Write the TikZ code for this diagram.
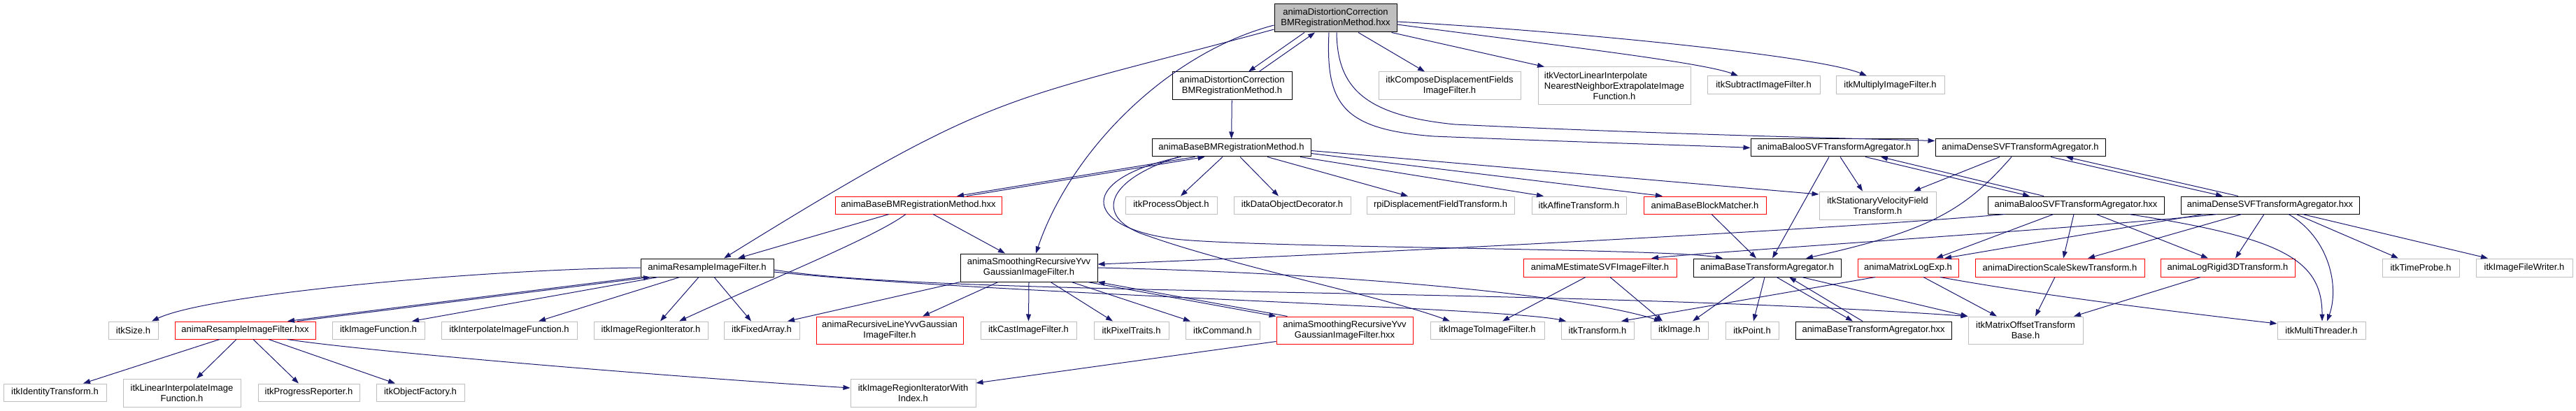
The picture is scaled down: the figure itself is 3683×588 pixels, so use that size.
\documentclass[tikz,border=0pt]{standalone}
\usepackage{fontspec}
\setmainfont{Liberation Sans}
\usetikzlibrary{arrows.meta}
\definecolor{edgeblue}{HTML}{191970}
\definecolor{extgray}{HTML}{BFBFBF}
\definecolor{truncred}{HTML}{FF0000}
\definecolor{curfill}{HTML}{BFBFBF}

\begin{document}
\begin{tikzpicture}[
  x=1pt, y=-1pt,
  file/.style    = {draw, fill=white, line width=1pt, inner sep=0pt, align=center,
                    font=\fontsize{13}{15}\selectfont},
  extfile/.style = {file, draw=extgray},
  redfile/.style = {file, draw=truncred},
  curfile/.style = {file, fill=curfill},
  wh/.style 2 args = {minimum width=#1pt, minimum height=#2pt},
  inc/.style     = {-{Triangle[length=10pt,width=7pt]}, line width=1pt, edgeblue}
]
\useasboundingbox (0,0) rectangle (3683,588);

%% ---- row 0 and 1 ----
\node[curfile, wh={175}{40}] (topHxx) at (1909.5,26) {animaDistortionCorrection\\BMRegistrationMethod.hxx};
\node[file, wh={171}{40}]    (distH)    at (1761.5,123) {animaDistortionCorrection\\BMRegistrationMethod.h};
\node[extfile, wh={203}{40}] (composeF) at (2072.5,123) {itkComposeDisplacementFields\\ImageFilter.h};
\node[extfile, wh={218}{54}] (vecInterp) at (2308,123)
  {\rlap{itkVectorLinearInterpolate}\phantom{NearestNeighborExtrapolateImage}\\NearestNeighborExtrapolateImage\\Function.h};
\node[extfile, wh={161}{26}] (subtractF) at (2521.5,122) {itkSubtractImageFilter.h};
\node[extfile, wh={155}{26}] (multiplyF) at (2702.5,122) {itkMultiplyImageFilter.h};

%% ---- row 2 ----
\node[file, wh={227}{25}] (baseBMH) at (1760.5,211.5) {animaBaseBMRegistrationMethod.h};
\node[file, wh={239}{25}] (balooH)  at (2622.5,211.5) {animaBalooSVFTransformAgregator.h};
\node[file, wh={243}{25}] (denseH)  at (2888.5,211.5) {animaDenseSVFTransformAgregator.h};

%% ---- row 3 ----
\node[redfile, wh={238}{25}] (baseBMHxx)  at (1313,293.5)   {animaBaseBMRegistrationMethod.hxx};
\node[extfile, wh={131}{25}] (procObj)    at (1674.5,293.5) {itkProcessObject.h};
\node[extfile, wh={167}{25}] (dataDeco)   at (1847.5,293.5) {itkDataObjectDecorator.h};
\node[extfile, wh={211}{25}] (rpiField)   at (2059.5,293.5) {rpiDisplacementFieldTransform.h};
\node[extfile, wh={135}{25}] (affineT)    at (2257.5,293.5) {itkAffineTransform.h};
\node[redfile, wh={175}{25}] (blockMatch) at (2437.5,293.5) {animaBaseBlockMatcher.h};
\node[extfile, wh={167}{40}] (svfT)       at (2684.5,294)   {itkStationaryVelocityField\\Transform.h};
\node[file, wh={252}{25}]    (balooHxx)   at (2968,293.5)   {animaBalooSVFTransformAgregator.hxx};
\node[file, wh={255}{25}]    (denseHxx)   at (3245.5,293.5) {animaDenseSVFTransformAgregator.hxx};

%% ---- row 4 ----
\node[file, wh={190}{26}]    (resampleH)  at (1011,383)   {animaResampleImageFilter.h};
\node[file, wh={196}{40}]    (smoothH)    at (1471,383)   {animaSmoothingRecursiveYvv\\GaussianImageFilter.h};
\node[redfile, wh={219}{26}] (mEstim)     at (2287.5,383) {animaMEstimateSVFImageFilter.h};
\node[file, wh={211}{26}]    (baseAggH)   at (2526.5,383) {animaBaseTransformAgregator.h};
\node[redfile, wh={144}{26}] (logExp)     at (2728,383)   {animaMatrixLogExp.h};
\node[redfile, wh={242}{26}] (dssT)       at (2945,383)   {animaDirectionScaleSkewTransform.h};
\node[redfile, wh={192}{26}] (logRigid)   at (3185,383)   {animaLogRigid3DTransform.h};
\node[extfile, wh={110}{26}] (timeProbe)  at (3461,383)   {itkTimeProbe.h};
\node[extfile, wh={138}{26}] (fileWriter) at (3609,383)   {itkImageFileWriter.h};

%% ---- row 5 ----
\node[extfile, wh={71}{25}]  (sizeH)       at (190.5,472.5)  {itkSize.h};
\node[redfile, wh={201}{25}] (resampleHxx) at (350.5,472.5)  {animaResampleImageFilter.hxx};
\node[extfile, wh={132}{25}] (imgFunc)     at (541,472.5)    {itkImageFunction.h};
\node[extfile, wh={194}{25}] (interpFunc)  at (728,472.5)    {itkInterpolateImageFunction.h};
\node[extfile, wh={163}{25}] (regionIt)    at (930.5,472.5)  {itkImageRegionIterator.h};
\node[extfile, wh={108}{25}] (fixedArr)    at (1089,472.5)   {itkFixedArray.h};
\node[redfile, wh={210}{39}] (recLine)     at (1272,472.5)   {animaRecursiveLineYvvGaussian\\ImageFilter.h};
\node[extfile, wh={137}{25}] (castF)       at (1470.5,472.5) {itkCastImageFilter.h};
\node[extfile, wh={107}{25}] (pixTraits)   at (1617.5,472.5) {itkPixelTraits.h};
\node[extfile, wh={106}{25}] (commandH)    at (1748,472.5)   {itkCommand.h};
\node[redfile, wh={195}{39}] (smoothHxx)   at (1922.5,472.5) {animaSmoothingRecursiveYvv\\GaussianImageFilter.hxx};
\node[extfile, wh={163}{25}] (img2img)     at (2126.5,472.5) {itkImageToImageFilter.h};
\node[extfile, wh={104}{25}] (transformH)  at (2284,472.5)   {itkTransform.h};
\node[extfile, wh={82}{25}]  (imageH)      at (2401,472.5)   {itkImage.h};
\node[extfile, wh={76}{25}]  (pointH)      at (2505,472.5)   {itkPoint.h};
\node[file, wh={223}{25}]    (baseAggHxx)  at (2678.5,472.5) {animaBaseTransformAgregator.hxx};
\node[extfile, wh={164}{39}] (matOffset)   at (2896,472.5)   {itkMatrixOffsetTransform\\Base.h};
\node[extfile, wh={126}{25}] (multiThr)    at (3319,472.5)   {itkMultiThreader.h};

%% ---- row 6 ----
\node[extfile, wh={147}{25}] (identT)      at (78.5,561.5)  {itkIdentityTransform.h};
\node[extfile, wh={168}{40}] (linInterp)   at (260,562)     {itkLinearInterpolateImage\\Function.h};
\node[extfile, wh={145}{25}] (progRep)     at (441.5,561.5) {itkProgressReporter.h};
\node[extfile, wh={126}{25}] (objFact)     at (601,561.5)   {itkObjectFactory.h};
\node[extfile, wh={179}{40}] (regionItIdx) at (1305.5,562)  {itkImageRegionIteratorWith\\Index.h};

%% ---- includes of the top file ----
\draw[inc] ([xshift=-44.5]topHxx.south) -- ([xshift=23.5]distH.north);
\draw[inc] ([xshift=38.5]distH.north) -- ([xshift=-29.5]topHxx.south);
\draw[inc] ([xshift=32.5]topHxx.south) -- ([xshift=-35.5]composeF.north);
\draw[inc] ([xshift=80]topHxx.south) -- ([xshift=-100]vecInterp.north);
\draw[inc] ([yshift=-9]topHxx.east) .. controls (2200,62) and (2430,88) .. ([xshift=-36.5]subtractF.north);
\draw[inc] ([yshift=-5]topHxx.east) .. controls (2250,45) and (2600,80) .. ([xshift=-33.5]multiplyF.north);
\draw[inc] ([yshift=-16]topHxx.west) .. controls (1427,149) and (1430,125) .. ([xshift=24]resampleH.north);
\draw[inc] ([yshift=-10]topHxx.west) .. controls (1672,75) and (1532,213) .. ([xshift=10]smoothH.north);
\draw[inc] ([xshift=-9.5]topHxx.south) .. controls (1895,150) and (1920,185) .. (2050,195)
  .. controls (2300,205) and (2450,209) .. (balooH.west);
\draw[inc] ([xshift=1.5]topHxx.south) .. controls (1912,125) and (1950,165) .. (2080,178)
  .. controls (2400,193) and (2650,198) .. ([yshift=10]denseH.west);

%% ---- registration method ----
\draw[inc] (distH) -- (baseBMH);
\draw[inc] ([xshift=-52]baseBMH.south) -- ([xshift=55]baseBMHxx.north);
\draw[inc] ([xshift=69]baseBMHxx.north) -- ([xshift=-38]baseBMH.south);
\draw[inc] ([xshift=-12.5]baseBMH.south) -- ([xshift=13.5]procObj.north);
\draw[inc] ([xshift=12.5]baseBMH.south) -- ([xshift=-19.5]dataDeco.north);
\draw[inc] ([xshift=51.5]baseBMH.south) -- ([xshift=-46.5]rpiField.north);
\draw[inc] ([xshift=98.5]baseBMH.south) -- ([xshift=-50.5]affineT.north);
\draw[inc] ([yshift=-8]baseBMH.east) -- ([xshift=-60.5]blockMatch.north);
\draw[inc] ([yshift=-4]baseBMH.east) -- ([yshift=16]svfT.west);
\draw[inc] ([xshift=-72]baseBMH.south) .. controls (1540,255) and (1545,325) .. (1680,342)
  .. controls (1800,355) and (2380,355) .. ([xshift=-63.5]baseAggH.north);
\draw[inc] ([xshift=-76]baseBMH.south) .. controls (1570,262) and (1570,315) .. (1640,337)
  .. controls (1760,380) and (1980,425) .. ([xshift=-53.5]img2img.north);

\draw[inc] ([xshift=-42]baseBMHxx.south) -- ([xshift=44]resampleH.north);
\draw[inc] ([xshift=-18]baseBMHxx.south) .. controls (1250,340) and (1100,400) .. ([xshift=40.5]regionIt.north);
\draw[inc] ([xshift=21]baseBMHxx.south) -- ([xshift=-34]smoothH.north);

%% ---- resample filter ----
\draw[inc] (resampleH.west) .. controls (700,385) and (300,420) .. ([xshift=26.5]sizeH.north);
\draw[inc] (resampleH.south west) -- ([xshift=60.5]resampleHxx.north);
\draw[inc] ([xshift=74.5]resampleHxx.north) -- ([xshift=-81]resampleH.south);
\draw[inc] ([xshift=-70]resampleH.south) -- ([xshift=48]imgFunc.north);
\draw[inc] ([xshift=-39]resampleH.south) -- ([xshift=42]interpFunc.north);
\draw[inc] ([xshift=-12]resampleH.south) -- ([xshift=13.5]regionIt.north);
\draw[inc] ([xshift=10]resampleH.south) -- ([xshift=-15]fixedArr.north);
\draw[inc] ([yshift=-6]resampleH.east) .. controls (1400,420) and (2150,440) .. ([xshift=-45]transformH.north);
\draw[inc] ([yshift=-3]resampleH.east) .. controls (1350,425) and (2200,410) .. (matOffset.north west);

\draw[inc] ([xshift=-36.5]resampleHxx.south) -- ([xshift=40.5]identT.north);
\draw[inc] ([xshift=-12.5]resampleHxx.south) -- ([xshift=21]linInterp.north);
\draw[inc] ([xshift=11.5]resampleHxx.south) -- ([xshift=-14.5]progRep.north);
\draw[inc] ([xshift=33.5]resampleHxx.south) -- ([xshift=-36]objFact.north);
\draw[inc] ([xshift=60.5]resampleHxx.south) .. controls (500,500) and (900,535) .. ([yshift=7]regionItIdx.west);

%% ---- smoothing filter ----
\draw[inc] ([xshift=-44]smoothH.south) -- ([xshift=47]recLine.north);
\draw[inc] (smoothH.south) -- (castF.north);
\draw[inc] ([xshift=31]smoothH.south) -- ([xshift=-26.5]pixTraits.north);
\draw[inc] ([xshift=61]smoothH.south) -- ([xshift=-46]commandH.north);
\draw[inc] ([xshift=84]smoothH.south) -- (smoothHxx.north west);
\draw[inc] ([xshift=-82]smoothHxx.north) -- (smoothH.south east);
\draw[inc] (smoothH.south west) -- ([xshift=37]fixedArr.north);
\draw[inc] (smoothH.east) .. controls (1900,390) and (2250,420) .. ([xshift=-26]imageH.north);
\draw[inc] ([yshift=-16]smoothHxx.west) -- ([yshift=14]regionItIdx.east);

%% ---- agregators ----
\draw[inc] ([xshift=-20.5]mEstim.south) -- ([xshift=21.5]img2img.north);
\draw[inc] ([xshift=14.5]mEstim.south) -- ([xshift=-24]imageH.north);
\draw[inc] ([xshift=-17.5]baseAggH.south) -- ([xshift=19]imageH.north);
\draw[inc] ([xshift=-3.5]baseAggH.south) -- ([xshift=2]pointH.north);
\draw[inc] ([xshift=13.5]baseAggH.south) -- ([xshift=-29.5]baseAggHxx.north);
\draw[inc] ([xshift=-15.5]baseAggHxx.north) -- ([xshift=31.5]baseAggH.south);
\draw[inc] ([xshift=49.5]baseAggH.south) -- (matOffset.north west);
\draw[inc] ([xshift=22]logExp.south) -- ([xshift=-41]matOffset.north);
\draw[inc] ([xshift=-47]logExp.south) -- ([xshift=34]transformH.north);
\draw[inc] ([xshift=46]logExp.south) .. controls (2900,420) and (3100,445) .. ([yshift=9.5]multiThr.west);
\draw[inc] ([xshift=-7]dssT.south) -- ([xshift=14]matOffset.north);
\draw[inc] ([xshift=-39]logRigid.south) -- ([xshift=69]matOffset.north);
\draw[inc] ([xshift=9.5]blockMatch.south) -- ([xshift=-15.5]baseAggH.north);

\draw[inc] ([xshift=-7.5]balooH.south) -- ([xshift=7.5]baseAggH.north);
\draw[inc] ([xshift=8.5]balooH.south) -- ([xshift=-21.5]svfT.north);
\draw[inc] ([xshift=44.5]balooH.south) -- ([xshift=-66]balooHxx.north);
\draw[inc] ([xshift=-46]balooHxx.north) -- ([xshift=66.5]balooH.south);
\draw[inc] ([xshift=-29.5]denseH.south) -- ([xshift=51.5]svfT.north);
\draw[inc] ([xshift=-12.5]denseH.south) .. controls (2810,300) and (2760,330) .. ([xshift=55.5]baseAggH.north);
\draw[inc] ([xshift=43.5]denseH.south) -- ([xshift=-67.5]denseHxx.north);
\draw[inc] ([xshift=-45.5]denseHxx.north) -- ([xshift=65.5]denseH.south);

\draw[inc] ([xshift=-101]balooHxx.south) .. controls (2600,330) and (1900,365) .. ([yshift=5]smoothH.east);
\draw[inc] ([xshift=-32]balooHxx.south) -- ([xshift=40]logExp.north);
\draw[inc] ([xshift=-3]balooHxx.south) -- ([xshift=5]dssT.north);
\draw[inc] ([xshift=29]balooHxx.south) -- ([xshift=-28]logRigid.north);
\draw[inc] ([xshift=76]balooHxx.south) .. controls (3260,340) and (3320,370) .. ([xshift=1]multiThr.north);

\draw[inc] ([xshift=-75.5]denseHxx.south) .. controls (3000,325) and (2450,360) .. ([xshift=73.5]mEstim.north);
\draw[inc] ([xshift=-95.5]denseHxx.south) -- ([xshift=52]logExp.north);
\draw[inc] ([xshift=-40.5]denseHxx.south) -- ([xshift=40]dssT.north);
\draw[inc] ([xshift=-8.5]denseHxx.south) -- ([xshift=11]logRigid.north);
\draw[inc] ([xshift=26.5]denseHxx.south) .. controls (3330,340) and (3345,410) .. ([xshift=8]multiThr.north);
\draw[inc] ([xshift=37.5]denseHxx.south) -- ([xshift=-32]timeProbe.north);
\draw[inc] ([xshift=46.5]denseHxx.south) -- ([xshift=-52]fileWriter.north);

\end{tikzpicture}
\end{document}
